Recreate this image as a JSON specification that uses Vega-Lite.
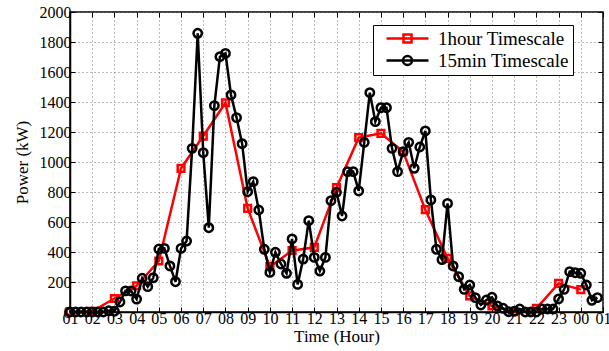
{
  "$schema": "https://vega.github.io/schema/vega-lite/v6.json",
  "autosize": {"type": "none"},
  "padding": {"left": 70, "top": 12, "right": 6, "bottom": 39},
  "width": 533,
  "height": 300,
  "background": "white",
  "config": {
    "view": {"stroke": "black", "strokeWidth": 1.5},
    "axis": {
      "labelFont": "Liberation Serif",
      "labelFontSize": 16,
      "labelColor": "black",
      "titleFont": "Liberation Serif",
      "titleFontSize": 17,
      "titleFontWeight": "normal",
      "titleColor": "black",
      "domainColor": "black",
      "domainWidth": 1.5,
      "tickColor": "black",
      "tickSize": -5,
      "tickWidth": 1,
      "gridColor": "#777",
      "gridDash": [1, 3],
      "gridWidth": 1
    }
  },
  "resolve": {"axis": {"x": "independent", "y": "independent"}},
  "datasets": {
    "hourly": [
      {"h": 0, "power": 0}, {"h": 1, "power": 5}, {"h": 2, "power": 90}, {"h": 3, "power": 175},
      {"h": 4, "power": 340}, {"h": 5, "power": 958}, {"h": 6, "power": 1173}, {"h": 7, "power": 1395},
      {"h": 8, "power": 691}, {"h": 9, "power": 302}, {"h": 10, "power": 409}, {"h": 11, "power": 431},
      {"h": 12, "power": 829}, {"h": 13, "power": 1162}, {"h": 14, "power": 1191}, {"h": 15, "power": 1069},
      {"h": 16, "power": 682}, {"h": 17, "power": 358}, {"h": 18, "power": 107}, {"h": 19, "power": 40},
      {"h": 20, "power": 2}, {"h": 21, "power": 25}, {"h": 22, "power": 191}, {"h": 23, "power": 149}
    ],
    "quarter": [
      {"h": 0, "power": 0}, {"h": 0.25, "power": 0}, {"h": 0.5, "power": 0}, {"h": 0.75, "power": 0},
      {"h": 1, "power": 0}, {"h": 1.25, "power": 0}, {"h": 1.5, "power": 0}, {"h": 1.75, "power": 8},
      {"h": 2, "power": 5}, {"h": 2.25, "power": 67}, {"h": 2.5, "power": 141}, {"h": 2.75, "power": 140},
      {"h": 3, "power": 86}, {"h": 3.25, "power": 225}, {"h": 3.5, "power": 169}, {"h": 3.75, "power": 228},
      {"h": 4, "power": 420}, {"h": 4.25, "power": 424}, {"h": 4.5, "power": 307}, {"h": 4.75, "power": 202},
      {"h": 5, "power": 424}, {"h": 5.25, "power": 473}, {"h": 5.5, "power": 1091}, {"h": 5.75, "power": 1858},
      {"h": 6, "power": 1062}, {"h": 6.25, "power": 562}, {"h": 6.5, "power": 1376}, {"h": 6.75, "power": 1702},
      {"h": 7, "power": 1724}, {"h": 7.25, "power": 1447}, {"h": 7.5, "power": 1296}, {"h": 7.75, "power": 1122},
      {"h": 8, "power": 802}, {"h": 8.25, "power": 869}, {"h": 8.5, "power": 680}, {"h": 8.75, "power": 418},
      {"h": 9, "power": 264}, {"h": 9.25, "power": 398}, {"h": 9.5, "power": 320}, {"h": 9.75, "power": 258},
      {"h": 10, "power": 487}, {"h": 10.25, "power": 184}, {"h": 10.5, "power": 353}, {"h": 10.75, "power": 609},
      {"h": 11, "power": 364}, {"h": 11.25, "power": 273}, {"h": 11.5, "power": 364}, {"h": 11.75, "power": 742},
      {"h": 12, "power": 798}, {"h": 12.25, "power": 640}, {"h": 12.5, "power": 936}, {"h": 12.75, "power": 936},
      {"h": 13, "power": 807}, {"h": 13.25, "power": 1131}, {"h": 13.5, "power": 1462}, {"h": 13.75, "power": 1269},
      {"h": 14, "power": 1362}, {"h": 14.25, "power": 1362}, {"h": 14.5, "power": 1091}, {"h": 14.75, "power": 936},
      {"h": 15, "power": 1069}, {"h": 15.25, "power": 1131}, {"h": 15.5, "power": 958}, {"h": 15.75, "power": 1100},
      {"h": 16, "power": 1207}, {"h": 16.25, "power": 747}, {"h": 16.5, "power": 418}, {"h": 16.75, "power": 349},
      {"h": 17, "power": 724}, {"h": 17.25, "power": 307}, {"h": 17.5, "power": 236}, {"h": 17.75, "power": 151},
      {"h": 18, "power": 180}, {"h": 18.25, "power": 96}, {"h": 18.5, "power": 47}, {"h": 18.75, "power": 80},
      {"h": 19, "power": 98}, {"h": 19.25, "power": 40}, {"h": 19.5, "power": 25}, {"h": 19.75, "power": 2},
      {"h": 20, "power": 5}, {"h": 20.25, "power": 20}, {"h": 20.5, "power": 0}, {"h": 20.75, "power": 0},
      {"h": 21, "power": 0}, {"h": 21.25, "power": 20}, {"h": 21.5, "power": 20}, {"h": 21.75, "power": 20},
      {"h": 22, "power": 87}, {"h": 22.25, "power": 151}, {"h": 22.5, "power": 269}, {"h": 22.75, "power": 262},
      {"h": 23, "power": 258}, {"h": 23.25, "power": 180}, {"h": 23.5, "power": 78}, {"h": 23.75, "power": 96}
    ]
  },
  "encoding": {
    "x": {
      "field": "h", "type": "quantitative",
      "scale": {"domain": [0, 24], "nice": false, "zero": false},
      "axis": null
    },
    "y": {
      "field": "power", "type": "quantitative",
      "scale": {"domain": [0, 2000], "nice": false},
      "axis": null
    },
    "color": {
      "field": "series", "type": "nominal",
      "scale": {"domain": ["1hour Timescale", "15min Timescale"], "range": ["#ff0000", "#000000"]},
      "legend": {
        "title": null,
        "orient": "none",
        "legendX": 303,
        "legendY": 13,
        "direction": "vertical",
        "padding": 4,
        "strokeColor": "black",
        "fillColor": "white",
        "cornerRadius": 0,
        "labelFont": "Liberation Serif",
        "labelFontSize": 19,
        "labelColor": "black",
        "labelOffset": 42,
        "symbolSize": 144,
        "symbolStrokeWidth": 2.5,
        "symbolFillColor": "transparent",
        "rowPadding": 1,
        "encode": {
          "symbols": {
            "update": {
              "shape": {"signal": "datum.value === '1hour Timescale' ? 'M0,0H7M2.83,-0.67H4.17V0.67H2.83Z' : 'M0,0H7M4.25,0A0.75,0.75,0,1,1,2.75,0A0.75,0.75,0,1,1,4.25,0'"},
              "fill": {"value": "transparent"}
            }
          }
        }
      }
    }
  },
  "layer": [
    {
      "data": {"name": "hourly"},
      "transform": [{"calculate": "'1hour Timescale'", "as": "series"}],
      "mark": {"type": "line", "strokeWidth": 2.5},
      "encoding": {
        "x": {
          "field": "h", "type": "quantitative",
          "scale": {"domain": [0, 24], "nice": false, "zero": false},
          "axis": {
            "title": "Time (Hour)",
            "orient": "bottom",
            "grid": true,
            "values": [0,1,2,3,4,5,6,7,8,9,10,11,12,13,14,15,16,17,18,19,20,21,22,23,24],
            "labelExpr": "((datum.value + 1) % 24 < 10 ? '0' : '') + ((datum.value + 1) % 24)",
            "labelPadding": 3,
            "titlePadding": 2,
            "labelFlush": false
          }
        },
        "y": {
          "field": "power", "type": "quantitative",
          "scale": {"domain": [0, 2000], "nice": false},
          "axis": {
            "title": "Power (kW)",
            "orient": "left",
            "grid": true,
            "format": "d",
            "values": [0,200,400,600,800,1000,1200,1400,1600,1800,2000],
            "labelPadding": 4,
            "titlePadding": 8
          }
        }
      }
    },
    {
      "data": {"name": "hourly"},
      "transform": [{"calculate": "'1hour Timescale'", "as": "series"}],
      "mark": {"type": "point", "shape": "square", "filled": false, "size": 45, "strokeWidth": 2.5, "opacity": 1}
    },
    {
      "data": {"name": "quarter"},
      "transform": [{"calculate": "'15min Timescale'", "as": "series"}],
      "mark": {"type": "line", "strokeWidth": 2.5}
    },
    {
      "data": {"name": "quarter"},
      "transform": [{"calculate": "'15min Timescale'", "as": "series"}],
      "mark": {"type": "point", "shape": "circle", "filled": false, "size": 70, "strokeWidth": 2.5, "opacity": 1},
      "encoding": {
        "x": {
          "field": "h", "type": "quantitative",
          "scale": {"domain": [0, 24], "nice": false, "zero": false},
          "axis": {
            "title": null,
            "orient": "top",
            "grid": false,
            "labels": false,
            "domain": false,
            "values": [0,1,2,3,4,5,6,7,8,9,10,11,12,13,14,15,16,17,18,19,20,21,22,23,24]
          }
        },
        "y": {
          "field": "power", "type": "quantitative",
          "scale": {"domain": [0, 2000], "nice": false},
          "axis": {
            "title": null,
            "orient": "right",
            "grid": false,
            "labels": false,
            "domain": false,
            "values": [0,200,400,600,800,1000,1200,1400,1600,1800,2000]
          }
        }
      }
    }
  ]
}
